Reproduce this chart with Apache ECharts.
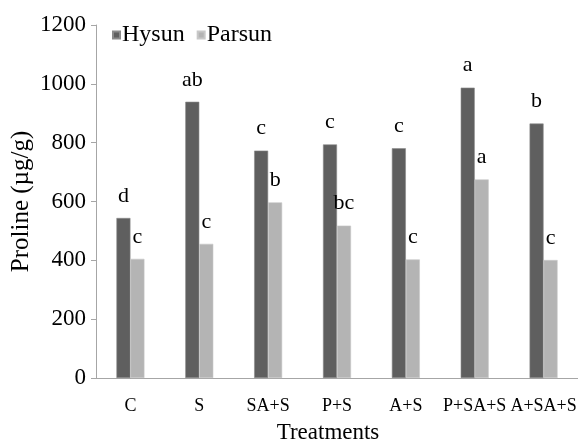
<!DOCTYPE html>
<html>
<head>
<meta charset="utf-8">
<script src="https://cdn.jsdelivr.net/npm/echarts@6/dist/echarts.min.js"></script>
<style>
  html, body { margin: 0; padding: 0; background: #fff; }
  #chart { width: 578px; height: 445px; }
</style>
</head>
<body>
<div id="chart"></div>
<script>
// Proline content of two sunflower cultivars under salt stress treatments
const treatments = ['C', 'S', 'SA+S', 'P+S', 'A+S', 'P+SA+S', 'A+SA+S'];
const hysun = [544, 939, 773, 794, 781, 987, 865];
const parsun = [405, 456, 597, 518, 403, 675, 401];
const hysunLetters = ['d', 'ab', 'c', 'c', 'c', 'a', 'b'];
const parsunLetters = ['c', 'c', 'b', 'bc', 'c', 'a', 'c'];
const yTicks = [0, 200, 400, 600, 800, 1000, 1200];

const FONT = '"Liberation Serif", "Times New Roman", serif';

const chart = echarts.init(document.getElementById('chart'), null, { renderer: 'canvas' });

function letterLabel(letters) {
  return {
    show: true,
    position: 'top',
    distance: 11,
    fontFamily: FONT,
    fontSize: 22,
    color: '#000',
    formatter: p => letters[p.dataIndex]
  };
}

chart.setOption({
  animation: false,
  backgroundColor: '#fff',
  textStyle: { fontFamily: FONT, color: '#000' },
  grid: { left: 96, right: 0, top: 25, bottom: 67, containLabel: false, outerBoundsMode: 'none' },
  legend: {
    left: 107,
    top: 18,
    icon: 'rect',
    itemWidth: 7,
    itemHeight: 7,
    itemGap: 12,
    textStyle: { fontFamily: FONT, fontSize: 24, color: '#000', padding: [0, 0, 0, -3] },
    data: ['Hysun', 'Parsun']
  },
  xAxis: {
    type: 'category',
    data: treatments,
    name: 'Treatments',
    nameLocation: 'middle',
    nameGap: 43,
    nameMoveOverlap: false,
    nameTextStyle: { fontFamily: FONT, fontSize: 23, color: '#000', padding: [0, 18, 0, 0] },
    axisLine: { lineStyle: { color: '#a6a6a6', width: 1 } },
    axisTick: { show: false },
    axisLabel: { fontFamily: FONT, fontSize: 18, color: '#000', margin: 19, interval: 0 }
  },
  yAxis: {
    type: 'value',
    min: yTicks[0],
    max: yTicks[yTicks.length - 1],
    interval: 200,
    name: 'Proline (µg/g)',
    nameLocation: 'middle',
    nameRotate: 90,
    nameGap: 62,
    nameMoveOverlap: false,
    nameTextStyle: { fontFamily: FONT, fontSize: 25, color: '#000' },
    axisLine: { show: true, lineStyle: { color: '#a6a6a6', width: 1 } },
    axisTick: { show: true, length: 5, lineStyle: { color: '#a6a6a6' } },
    splitLine: { show: false },
    axisLabel: { fontFamily: FONT, fontSize: 23, color: '#000', margin: 10, formatter: v => String(v) }
  },
  series: [
    {
      name: 'Hysun',
      type: 'bar',
      data: hysun,
      barWidth: 14,
      barGap: '0%',
      itemStyle: { color: '#5f5f5f', borderColor: '#8a8a8a', borderWidth: 0.6 },
      label: letterLabel(hysunLetters)
    },
    {
      name: 'Parsun',
      type: 'bar',
      data: parsun,
      barWidth: 14,
      barGap: '0%',
      itemStyle: { color: '#b4b4b4', borderColor: '#c8c8c8', borderWidth: 0.6 },
      label: letterLabel(parsunLetters)
    }
  ]
});
</script>
</body>
</html>
